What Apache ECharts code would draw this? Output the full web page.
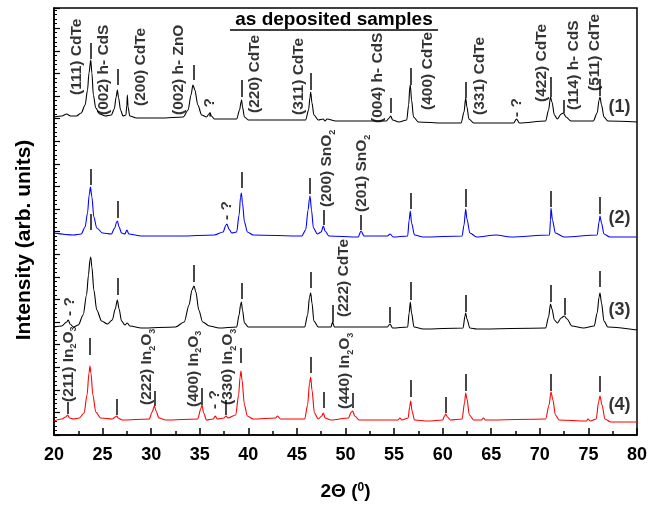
<!DOCTYPE html>
<html>
<head>
<meta charset="utf-8">
<script src="https://cdn.jsdelivr.net/npm/echarts@6/dist/echarts.min.js"></script>
<style>
  html, body { margin: 0; padding: 0; background: #fff; }
  #chart { width: 650px; height: 506px; }
</style>
</head>
<body>
<div id="chart"></div>
<script>
// XRD scans of the as-deposited samples, stacked with vertical offsets (arb. units).
// Each point is [2-theta (deg), intensity].
const scan1 = [
  [20,318],[20.8,319],[21.3,321],[21.7,319],[22.3,319],[22.8,322],[23.2,330],[23.45,345],[23.6,362],[23.78,375],
  [23.9,362],[24.05,340],[24.3,327],[24.7,321],[25.3,319],[25.9,320],[26.2,326],[26.4,338],[26.52,345],[26.65,337],
  [26.85,325],[27.1,319],[27.4,320],[27.5,330],[27.55,340],[27.62,328],[27.8,319],[28.5,317],[31,317],[33.3,318],
  [33.8,325],[34.1,340],[34.3,350],[34.5,345],[34.8,330],[35.2,320],[35.7,318],[35.95,321],[36.05,322],[36.2,319],
  [36.5,316],[38.8,316],[39.1,325],[39.25,333],[39.31,335],[39.4,328],[39.6,318],[40,315],[43,315],[45.9,315],
  [46.2,325],[46.35,338],[46.42,343],[46.55,332],[46.75,320],[47.2,315],[47.7,316],[47.9,314],[48.1,316],[49,314],
  [52,314],[54.2,314],[54.5,317],[54.65,319],[54.85,315],[55.5,313],[56.3,315],[56.5,330],[56.62,348],[56.67,350],
  [56.8,335],[57,318],[57.5,313],[60,312],[61.9,312],[62.2,323],[62.37,337],[62.5,328],[62.7,316],[63.2,312],
  [67.3,312],[67.6,316],[67.9,312],[70.6,314],[70.9,325],[71.1,338],[71.25,333],[71.5,320],[71.8,316],[72.2,321],
  [72.42,322],[72.7,318],[73.2,314],[75.5,314],[75.9,322],[76.1,335],[76.19,338],[76.35,330],[76.6,318],[77,314],[80,313]
];
const scan2 = [
  [20,202],[22,200],[22.8,201],[23.2,208],[23.45,222],[23.62,240],[23.75,248],[23.9,238],[24.1,218],[24.4,207],
  [25,202],[25.9,201],[26.25,207],[26.45,213],[26.52,214],[26.7,208],[26.95,202],[27.3,201],[27.5,205],[27.7,201],
  [29,199],[33,199],[36.5,200],[37.4,203],[37.7,210],[37.8,211],[38,206],[38.3,202],[38.8,203],[39.05,220],
  [39.2,238],[39.28,242],[39.4,232],[39.6,213],[39.9,203],[40.5,200],[45.5,199],[45.9,205],[46.15,225],[46.3,237],
  [46.35,239],[46.5,225],[46.7,207],[47.1,201],[47.5,203],[47.72,209],[47.9,204],[48.3,199],[51.3,198],[51.6,204],
  [51.9,199],[54.3,199],[54.6,201],[54.9,198],[56.4,199],[56.55,215],[56.67,224],[56.8,212],[57.1,200],[58,198],
  [62,199],[62.2,210],[62.37,226],[62.5,216],[62.8,202],[63.5,198],[65.5,200],[67,198],[71,200],[71.1,215],
  [71.15,227],[71.3,215],[71.6,202],[72.5,198],[75.9,200],[76.1,213],[76.19,219],[76.35,212],[76.6,201],[77.2,198],[80,198]
];
const scan3 = [
  [20,108],[20.8,109],[21.3,113],[21.47,115],[21.65,111],[22,108],[22.5,110],[23,120],[23.35,140],[23.55,160],
  [23.7,175],[23.78,178],[23.9,168],[24.1,145],[24.4,125],[24.9,114],[25.5,111],[26,115],[26.3,126],[26.52,135],
  [26.7,126],[26.95,114],[27.3,110],[27.55,112],[27.8,109],[29,107],[32.5,108],[33.4,113],[33.9,130],[34.2,145],
  [34.41,149],[34.6,143],[34.9,125],[35.3,113],[36,109],[37,107],[38.8,108],[39.05,120],[39.2,130],[39.28,133],
  [39.4,125],[39.6,112],[40,108],[45.8,108],[46.1,120],[46.3,138],[46.42,142],[46.55,132],[46.75,114],[47.2,108],
  [48.5,108],[48.68,113],[48.85,108],[54.3,108],[54.58,111],[54.85,107],[56.4,108],[56.55,122],[56.67,133],[56.8,122],
  [57.05,108],[58,106],[62.1,107],[62.3,119],[62.37,122],[62.5,116],[62.8,107],[63.5,106],[70.6,107],[70.9,118],
  [71.1,131],[71.25,126],[71.5,115],[71.8,112],[72.2,117],[72.52,119],[72.8,116],[73.3,109],[74.5,107],[75.6,109],
  [75.9,122],[76.1,138],[76.19,142],[76.35,132],[76.6,114],[77,108],[80,105]
];
const scan4 = [
  [20,14],[20.8,16],[21.2,18],[21.41,20],[21.6,17],[22,16],[22.6,17],[23.1,22],[23.4,40],[23.6,62],
  [23.7,69],[23.8,62],[24,40],[24.3,23],[24.8,17],[26,16],[26.3,18],[26.45,19],[26.6,17],[27,15],
  [29.8,16],[30.1,23],[30.33,29],[30.5,24],[30.8,17],[31.5,15],[34.8,16],[35.1,26],[35.23,30],[35.4,22],
  [35.7,15],[36.4,16],[36.6,19],[36.8,16],[37.5,17],[37.7,19],[37.9,17],[38.7,20],[39,40],[39.15,58],
  [39.24,64],[39.35,55],[39.6,30],[39.9,19],[40.5,16],[42.8,17],[43,19],[43.3,16],[45.8,16],[46.1,30],
  [46.3,52],[46.42,58],[46.55,45],[46.8,22],[47.2,16],[47.55,19],[47.72,22],[47.9,17],[48.5,15],[50.3,17],
  [50.6,23],[50.74,24],[50.95,19],[51.4,15],[55.4,15],[55.6,17],[55.8,15],[56.45,17],[56.6,28],[56.71,34],
  [56.85,24],[57.1,15],[58.5,14],[60,15],[60.2,19],[60.31,21],[60.5,18],[60.8,15],[62,16],[62.25,32],
  [62.37,42],[62.5,36],[62.75,20],[63.2,15],[64,15],[64.2,17],[64.4,15],[70.6,16],[70.95,30],[71.15,43],
  [71.35,35],[71.6,20],[72,15],[74.8,14],[74.95,16],[75.2,14],[75.8,16],[76.05,33],[76.19,39],[76.4,30],
  [76.7,16],[77.3,13],[80,13]
];

// Reflection markers: [2-theta, lower end, upper end]
const ticks1 = [[23.78,376,392],[26.52,350,366],[34.34,355,370],[39.31,338,355],[46.42,345,362],[54.65,322,337],
  [56.67,350,367],[62.37,337,353],[71.15,338,358],[72.42,322,335],[76.19,339,356]];
const ticks2 = [[23.78,250,266],[23.78,205,221],[26.52,217,234],[39.28,247,263],[46.35,241,257],[47.72,210,225],
  [51.6,205,220],[56.67,226,242],[62.37,228,246],[71.15,228,244],[76.19,221,238]];
const ticks3 = [[26.52,140,157],[34.41,153,170],[39.28,136,152],[46.42,147,163],[48.68,113,130],[54.58,112,128],
  [56.67,135,153],[62.37,123,140],[71.15,133,150],[72.52,120,137],[76.19,148,164]];
const ticks4 = [[21.41,21,33],[23.7,80,97],[26.45,20,36],[30.33,29,44],[35.23,30,47],[37.7,20,35],[39.24,72,87],
  [46.42,62,78],[47.72,27,43],[50.74,27,42],[56.71,38,55],[60.31,22,38],[62.37,44,61],[71.15,44,61],[76.19,43,59]];

// Phase labels (vertical text): [text, 2-theta, intensity at the start of the text]
const phaseLabels = [
  ['(111) CdTe',22.37,340],['(002) h- CdS',25.08,320],['(200) CdTe',28.92,329],['(002) h- ZnO',32.8,320],
  ['- ?',35.98,318],['(220) CdTe',40.69,322],['(311) CdTe',45.14,320],['(004) h- CdS',53.27,312],
  ['(400) CdTe',58.42,325],['(331) CdTe',63.84,320],['- ?',67.62,318],['(422) CdTe',70.19,333],
  ['(114) h- CdS',73.44,325],['(511) CdTe',75.68,344],
  ['- ?',37.77,215],['(200) SnO{s|2}',48.06,228],['(201) SnO{s|2}',51.67,223],
  ['- ?',21.65,119],['(222) CdTe',49.78,118],
  ['(211) In{s|2}O{s|3}',21.48,33],['(222) In{s|2}O{s|3}',29.54,30],['(400) In{s|2}O{s|3}',34.34,28],
  ['- ?',36.5,26],['(330) In{s|2}O{s|3}',37.87,30],['(440) In{s|2}O{s|3}',49.95,26]
];

// Sample numbers at the right end of each scan
const sampleNames = ['(1)','(2)','(3)','(4)'];
const sampleLabelPos = [[78.2,328],[78.2,217],[78.2,125],[78.2,30]];

const scans = [scan1, scan2, scan3, scan4];
const scanColors = ['#000000','#0000ff','#000000','#ff0000'];
const allTicks = [].concat(ticks1, ticks2, ticks3, ticks4);

const FONT = '"Liberation Sans", Arial, Helvetica, sans-serif';
const chart = echarts.init(document.getElementById('chart'), null, { renderer: 'canvas' });

const series = scans.map((d, i) => ({
  type: 'line',
  data: d,
  showSymbol: false,
  smooth: 0.3,
  smoothMonotone: 'x',
  lineStyle: { color: scanColors[i], width: 1.1 },
  z: 3,
  silent: true
}));

series.push({
  type: 'lines',
  coordinateSystem: 'cartesian2d',
  data: allTicks.map(t => ({ coords: [[t[0], t[1]], [t[0], t[2]]] })),
  lineStyle: { color: '#1a1a1a', width: 1.6, opacity: 1 },
  z: 4,
  silent: true
});

series.push({
  type: 'scatter',
  symbolSize: 0,
  data: phaseLabels.map(l => ({ name: l[0], value: [l[1], l[2]] })),
  label: {
    show: true,
    position: [0, 0],
    rotate: 90,
    align: 'left',
    verticalAlign: 'middle',
    formatter: p => p.name,
    color: '#000',
    fontFamily: FONT,
    fontWeight: 'bold',
    fontSize: 15.5,
    lineHeight: 20,
    rich: {
      s: { fontSize: 9, fontWeight: 'bold', fontFamily: FONT, color: '#000', lineHeight: 9, verticalAlign: 'bottom' }
    }
  },
  z: 5,
  silent: true
});

series.push({
  type: 'scatter',
  symbolSize: 0,
  data: sampleNames.map((n, i) => ({ name: n, value: sampleLabelPos[i] })),
  label: {
    show: true,
    position: [0, 0],
    align: 'center',
    verticalAlign: 'middle',
    formatter: p => p.name,
    color: '#000',
    fontFamily: FONT,
    fontWeight: 'bold',
    fontSize: 18
  },
  z: 5,
  silent: true
});

chart.setOption({
  animation: false,
  backgroundColor: '#fff',
  grid: { left: 54, right: 13, top: 8, bottom: 71, show: true, borderColor: '#000', borderWidth: 1.5, backgroundColor: 'transparent' },
  xAxis: {
    type: 'value',
    min: 20, max: 80, interval: 5,
    axisLine: { show: true, lineStyle: { color: '#000', width: 1.5 } },
    axisTick: { show: true, inside: true, length: 7, lineStyle: { color: '#000', width: 1.5 } },
    minorTick: { show: true, splitNumber: 2, length: 4, lineStyle: { color: '#000', width: 1.5 } },
    splitLine: { show: false },
    axisLabel: { color: '#000', fontFamily: FONT, fontWeight: 'bold', fontSize: 18, margin: 11 },
    name: '2\u0398 ({sup|0})',
    nameLocation: 'middle',
    nameGap: 47,
    nameTextStyle: {
      color: '#000', fontFamily: FONT, fontWeight: 'bold', fontSize: 19,
      rich: { sup: { fontSize: 12, fontWeight: 'bold', fontFamily: FONT, color: '#000', verticalAlign: 'top', lineHeight: 10 } }
    }
  },
  yAxis: {
    type: 'value',
    min: 0, max: 427, interval: 22.6,
    axisLine: { show: true, lineStyle: { color: '#000', width: 1.5 } },
    axisTick: { show: true, inside: true, length: 6, lineStyle: { color: '#000', width: 1.2 } },
    minorTick: { show: true, splitNumber: 5, length: 3, lineStyle: { color: '#000', width: 1 } },
    splitLine: { show: false },
    axisLabel: { show: false }
  },
  graphic: [
    { type: 'text', x: 334, y: 20, style: { text: 'as deposited samples', fill: '#000', font: 'bold 19px ' + FONT, align: 'center', verticalAlign: 'middle' } },
    { type: 'line', shape: { x1: 230, y1: 30, x2: 438, y2: 30 }, style: { stroke: '#000', lineWidth: 1.5 } },
    { type: 'text', x: 24, y: 240, rotation: Math.PI / 2, style: { text: 'Intensity (arb. units)', fill: '#000', font: 'bold 21px ' + FONT, align: 'center', verticalAlign: 'middle' } }
  ],
  series: series
});
</script>
</body>
</html>
